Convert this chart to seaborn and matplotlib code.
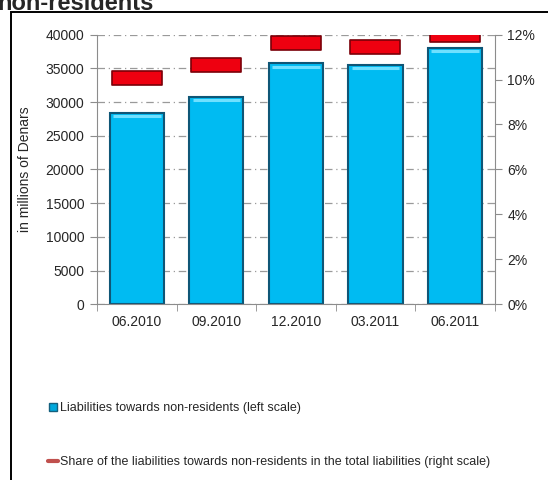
import matplotlib
matplotlib.use("Agg")
import matplotlib.pyplot as plt
from matplotlib.patches import Rectangle
from matplotlib.lines import Line2D
from matplotlib.path import Path
from matplotlib.ticker import PercentFormatter, MultipleLocator
import seaborn as sns
import pandas as pd

# Quarterly liabilities towards non-residents
periods = ["06.2010", "09.2010", "12.2010", "03.2011", "06.2011"]
liabilities = [28350, 30800, 35750, 35500, 38070]      # millions of Denars
share_pct = [10.05, 10.65, 11.62, 11.43, 11.99]         # % of total liabilities

df = pd.DataFrame({"period": periods, "liabilities": liabilities, "share": share_pct})

sns.set_style("white")
plt.rcParams["font.family"] = ["Liberation Sans", "DejaVu Sans"]

fig = plt.figure(figsize=(5.48, 4.8), dpi=100)
ax = fig.add_axes([0.177, 0.366, 0.726, 0.562])

sns.barplot(data=df, x="period", y="liabilities", ax=ax, color="#00BBF2",
            width=0.68, edgecolor="#0F5676", linewidth=1.5, saturation=1)

# light bevel along the top of each bar
for p in ax.patches:
    x0, w, h = p.get_x(), p.get_width(), p.get_height()
    ax.plot([x0 + w * 0.06, x0 + w * 0.94], [h * 0.985, h * 0.985],
            color="#6FE0FF", linewidth=2.2, solid_capstyle="butt", zorder=3)

ax.set_ylim(0, 40000)
ax.set_xlim(-0.5, len(periods) - 0.5)
ax.yaxis.set_major_locator(MultipleLocator(5000))
ax.grid(axis="y", color="#9A9A9A", linestyle=(0, (6, 3, 1, 3)), linewidth=0.9)
ax.set_axisbelow(True)
ax.set_xlabel("")
ax.set_ylabel("in millions of Denars", fontsize=10, labelpad=10)

# Horizontal bar-shaped markers for the share series on the right scale
rect = Path([(-0.5, -0.14), (0.5, -0.14), (0.5, 0.14), (-0.5, 0.14), (-0.5, -0.14)],
            [Path.MOVETO, Path.LINETO, Path.LINETO, Path.LINETO, Path.CLOSEPOLY])
ax2 = ax.twinx()
sns.scatterplot(data=df, x="period", y="share", ax=ax2, marker=rect, s=36 ** 2,
                color="#EE0010", edgecolor="#7A0008", linewidth=1.2, legend=False,
                zorder=5)
ax2.set_ylim(0, 12)
ax2.yaxis.set_major_locator(MultipleLocator(2))
ax2.yaxis.set_major_formatter(PercentFormatter(decimals=0))
ax2.set_ylabel("")
ax2.grid(False)

grey = "#8C8C8C"
for a in (ax, ax2):
    for s in a.spines.values():
        s.set_visible(False)
ax.spines["left"].set_visible(True)
ax.spines["left"].set_color(grey)
ax.spines["bottom"].set_visible(True)
ax.spines["bottom"].set_color(grey)
ax2.spines["right"].set_visible(True)
ax2.spines["right"].set_color(grey)

ax.tick_params(axis="y", left=True, length=5, color=grey, labelsize=10, pad=4)
ax2.tick_params(axis="y", right=True, length=5, color=grey, labelsize=10, pad=4)
# x ticks sit on category boundaries, labels centred under bars
ax.set_xticks(range(len(periods)))
ax.set_xticklabels(periods)
ax.tick_params(axis="x", bottom=False, labelsize=10, pad=4)
ax.set_xticks([i - 0.5 for i in range(len(periods) + 1)], minor=True)
ax.tick_params(axis="x", which="minor", bottom=True, length=5, color=grey)

# Legend below the plot
handles = [
    Line2D([], [], marker="s", linestyle="none", markersize=6,
           markerfacecolor="#00A8DC", markeredgecolor="#14607E"),
    Line2D([], [], color="#C0504D", linewidth=3),
]
labels = [
    "Liabilities towards non-residents (left scale)",
    "Share of the liabilities towards non-residents in the total liabilities (right scale)",
]
fig.legend(handles, labels, loc="upper left", bbox_to_anchor=(0.078, 0.173),
           frameon=False, labelspacing=3.4, handlelength=0.8,
           handletextpad=0.2, borderaxespad=0,
           prop={"family": ["Liberation Sans"], "size": 9})

# Outer frame and the heading
fig.add_artist(Rectangle((11 / 548, -0.05), 1.1, 0.05 + 1 - 12 / 480,
                         transform=fig.transFigure, fill=False,
                         edgecolor="black", linewidth=1.4))
fig.text(-0.004, 1 - 9.5 / 480, "non-residents", fontsize=17, fontweight="bold",
         va="baseline", ha="left")

fig.savefig("out.png", dpi=100)
